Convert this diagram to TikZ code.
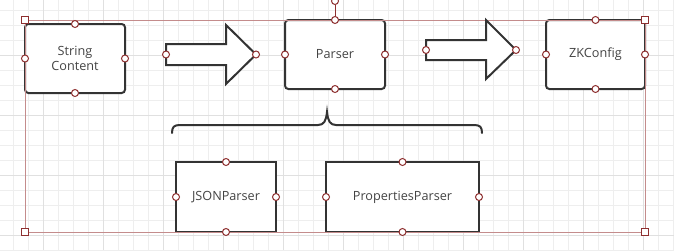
\documentclass[tikz,border=0pt]{standalone}
\usepackage{fontspec}
\setsansfont{Open Sans}
\renewcommand{\familydefault}{\sfdefault}
\usepackage{xcolor}
\definecolor{gridminor}{HTML}{EEEEEE}
\definecolor{gridmajor}{HTML}{E0E0E0}
\definecolor{selline}{HTML}{C48C8C}
\definecolor{handle}{HTML}{8E2F2F}
\definecolor{shapeline}{HTML}{333333}
\definecolor{labeltext}{HTML}{444444}

\tikzset{
  box/.style={draw=shapeline, line width=1.5pt, fill=white, text=labeltext,
    align=center, inner sep=0pt, outer sep=0pt,
    font=\fontsize{9.5}{11.25}\selectfont},
  roundbox/.style={box, rounded corners=2.5pt},
  bigarrow/.style={draw=shapeline, line width=1.5pt, fill=white},
  port/.style={circle, draw=handle, fill=white, line width=0.75pt,
    minimum size=5.25pt, inner sep=0pt},
  grip/.style={rectangle, draw=handle, fill=white, line width=1pt,
    minimum size=5.25pt, inner sep=0pt},
}

\begin{document}
\begin{tikzpicture}[x=0.75pt, y=-0.75pt]
  % canvas with grid
  \useasboundingbox (0,0) rectangle (674,250);
  \fill[white] (0,0) rectangle (674,250);
  \foreach \gx in {13,28,...,673} \draw[gridminor, line width=0.75pt] (\gx,0) -- (\gx,250);
  \foreach \gy in {10,25,...,250} \draw[gridminor, line width=0.75pt] (0,\gy) -- (674,\gy);
  \foreach \gx in {43,103,...,643} \draw[gridmajor, line width=0.75pt] (\gx,0) -- (\gx,250);
  \foreach \gy in {55,115,...,235} \draw[gridmajor, line width=0.75pt] (0,\gy) -- (674,\gy);

  % boxes
  \node[roundbox, minimum width=75pt, minimum height=51.75pt] (content) at (75,58.5) {String\\Content};
  \node[roundbox, minimum width=75pt, minimum height=51.75pt] (parser) at (335,54.5) {Parser};
  \node[roundbox, minimum width=74.25pt, minimum height=51.75pt] (zkconfig) at (595.5,54.5) {ZKConfig};
  \node[box, minimum width=75pt, minimum height=52.5pt] (jsonparser) at (226,197) {JSONParser};
  \node[box, minimum width=114.75pt, minimum height=52.5pt] (propparser) at (402.5,197) {PropertiesParser};

  % selection frame
  \draw[selline, line width=0.75pt] (content.west |- parser.north) rectangle (zkconfig.east |- jsonparser.south);

  % block arrows
  \draw[bigarrow] (166,44) -- (226,44) -- (226,25) -- (256,54.5)
        -- (226,84) -- (226,65) -- (166,65) -- cycle;
  \coordinate (arrowAtail) at (166,54.5);
  \coordinate (arrowAtip) at (256,54.5);
  \draw[bigarrow] (426,40) -- (486,40) -- (486,20) -- (516,50)
        -- (486,79) -- (486,60) -- (426,60) -- cycle;
  \coordinate (arrowBtail) at (426,50);
  \coordinate (arrowBtip) at (516,50);

  % curly brace over the two parsers
  \draw[shapeline, line width=1.5pt, line cap=round]
    (172,133) .. controls (172,127) and (174,125) .. (180,125) -- (318,125)
    .. controls (324,125) and (326,121) .. (327,112)
    .. controls (328,121) and (330,125) .. (336,125) -- (474,125)
    .. controls (480,125) and (482,127) .. (482,133);

  % rotation handle
  \node[port] (rotate) at ([yshift=14.25pt]parser.north) {};
  \draw[handle, line width=0.75pt] (rotate) -- (parser.north);

  % connection points
  \foreach \n in {content,parser,zkconfig,jsonparser,propparser}
    \foreach \a in {north,south,east,west}
      \node[port] (\n-\a) at (\n.\a) {};
  \foreach \c in {arrowAtail,arrowAtip,arrowBtail,arrowBtip}
    \node[port] (\c-pt) at (\c) {};

  % resize grips
  \node[grip] (grip-nw) at (content.west |- parser.north) {};
  \node[grip] (grip-ne) at (zkconfig.east |- parser.north) {};
  \node[grip] (grip-sw) at (content.west |- jsonparser.south) {};
  \node[grip] (grip-se) at (zkconfig.east |- jsonparser.south) {};
\end{tikzpicture}
\end{document}
